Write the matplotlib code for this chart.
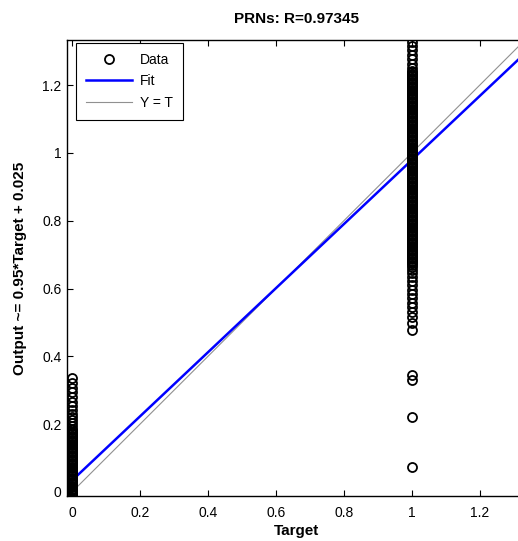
import numpy as np
import matplotlib
matplotlib.use('Agg')
import matplotlib.pyplot as plt

plt.rcParams['font.family'] = ['Liberation Sans', 'DejaVu Sans']

# outputs for target = 0 (sparse tail, then the dense block)
out_t0 = [0.335, 0.322, 0.308, 0.294, 0.280, 0.266, 0.253, 0.241, 0.230,
          0.220, 0.211, 0.202, 0.194, 0.186,
          0.182, 0.178, 0.174, 0.170, 0.166, 0.162, 0.158, 0.154, 0.150,
          0.146, 0.142, 0.138, 0.134, 0.130, 0.126, 0.122, 0.118, 0.114,
          0.110, 0.106, 0.102, 0.098, 0.094, 0.090, 0.086, 0.082, 0.078,
          0.074, 0.070, 0.066, 0.062, 0.058, 0.054, 0.050, 0.046, 0.042,
          0.038, 0.034, 0.030, 0.026, 0.022, 0.018, 0.014, 0.010, 0.006,
          0.002, -0.002, -0.006, -0.010]

# outputs for target = 1 (low outliers, dense block, top tail)
out_t1 = [0.075, 0.222, 0.330, 0.345, 0.478, 0.498, 0.515, 0.530, 0.545,
          0.558, 0.571, 0.584, 0.597, 0.610, 0.622, 0.634, 0.646, 0.656,
          0.664,
          0.670, 0.674, 0.678, 0.682, 0.686, 0.690, 0.694, 0.698, 0.702,
          0.706, 0.710, 0.714, 0.718, 0.722, 0.726, 0.730, 0.734, 0.738,
          0.742, 0.746, 0.750, 0.754, 0.758, 0.762, 0.766, 0.770, 0.774,
          0.778, 0.782, 0.786, 0.790, 0.794, 0.798, 0.802, 0.806, 0.810,
          0.814, 0.818, 0.822, 0.826, 0.830, 0.834, 0.838, 0.842, 0.846,
          0.850, 0.854, 0.858, 0.862, 0.866, 0.870, 0.874, 0.878, 0.882,
          0.886, 0.890, 0.894, 0.898, 0.902, 0.906, 0.910, 0.914, 0.918,
          0.922, 0.926, 0.930, 0.934, 0.938, 0.942, 0.946, 0.950, 0.954,
          0.958, 0.962, 0.966, 0.970, 0.974, 0.978, 0.982, 0.986, 0.990,
          0.994, 0.998, 1.002, 1.006, 1.010, 1.014, 1.018, 1.022, 1.026,
          1.030, 1.034, 1.038, 1.042, 1.046, 1.050, 1.054, 1.058, 1.062,
          1.066, 1.070, 1.074, 1.078, 1.082, 1.086, 1.090, 1.094, 1.098,
          1.102, 1.106, 1.110, 1.114, 1.118, 1.122, 1.126, 1.130, 1.134,
          1.138, 1.142, 1.146, 1.150, 1.154, 1.158, 1.162, 1.166, 1.170,
          1.174, 1.178, 1.182, 1.186, 1.190, 1.194, 1.198, 1.202, 1.206,
          1.210, 1.214, 1.218, 1.222, 1.226, 1.230, 1.234, 1.238, 1.242,
          1.250, 1.262, 1.276, 1.290, 1.304, 1.316, 1.326]

fit_slope = 0.945
fit_intercept = 0.034
r_value = 0.97345

xticks = [0, 0.2, 0.4, 0.6, 0.8, 1, 1.2]
yticks = [0, 0.2, 0.4, 0.6, 0.8, 1, 1.2]
tick_labels = ['0', '0.2', '0.4', '0.6', '0.8', '1', '1.2']


def plot_regression():
    fig = plt.figure(figsize=(5.18, 5.41), dpi=100)
    ax = fig.add_axes([67 / 518., 45 / 541., 460 / 518., 456 / 541.])

    targets = np.concatenate([np.zeros(len(out_t0)), np.ones(len(out_t1))])
    outputs = np.concatenate([out_t0, out_t1])

    xlim = (-0.015, 1.339)
    line_x = np.array(xlim)

    ax.plot(targets, outputs, ls='None', marker='o', mfc='none', mec='k',
            ms=6.5, mew=1.3, label='Data', zorder=3)
    ax.plot(line_x, fit_slope * line_x + fit_intercept, color='#0000ff',
            lw=1.8, label='Fit', zorder=2)
    ax.plot(line_x, line_x, color='#909090', lw=0.8, label='Y = T', zorder=1)

    ax.set_xlim(xlim)
    ax.set_ylim(-0.012, 1.333)
    ax.set_xticks(xticks)
    ax.set_xticklabels(tick_labels)
    ax.set_yticks(yticks)
    ax.set_yticklabels(tick_labels)
    ax.tick_params(direction='in', length=4, width=0.8, top=True, right=True,
                   labelsize=10)
    ax.tick_params(axis='x', pad=7)
    ax.tick_params(axis='y', pad=4)
    for sp in ax.spines.values():
        sp.set_linewidth(1.0)

    ax.set_xlabel('Target', fontsize=11, fontweight='bold', labelpad=3)
    ax.set_ylabel('Output ~= 0.95*Target + 0.025', fontsize=11,
                  fontweight='bold', labelpad=11)
    ax.set_title('PRNs: R={}'.format(r_value), fontsize=11,
                 fontweight='bold', pad=12)

    leg = ax.legend(loc='upper left', bbox_to_anchor=(9 / 460., 1 - 3 / 456.),
                    borderaxespad=0, fontsize=10, fancybox=False,
                    edgecolor='k', framealpha=1, borderpad=0.7,
                    handlelength=3.3, handletextpad=0.6, labelspacing=0.55)
    leg.get_frame().set_linewidth(0.8)

    fig.savefig('out.png', dpi=100)


plot_regression()
